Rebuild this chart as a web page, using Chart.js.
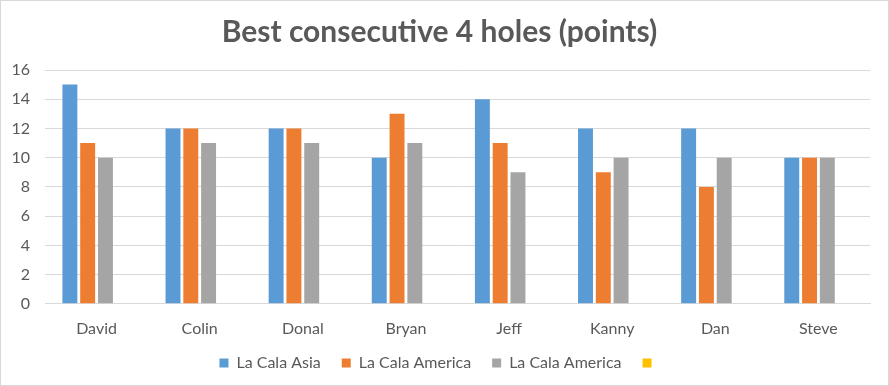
<!DOCTYPE html>
<html>
<head>
<meta charset="utf-8">
<script src="https://cdn.jsdelivr.net/npm/chart.js@4"></script>
<style>
  html, body { margin: 0; padding: 0; background: #fff; }
  #wrap { width: 887px; height: 384px; border: 1px solid #d9d9d9; }
</style>
</head>
<body>
<div id="wrap"><canvas id="chart" width="887" height="384"></canvas></div>
<script>
// Datos del gráfico
const players = ['David', 'Colin', 'Donal', 'Bryan', 'Jeff', 'Kanny', 'Dan', 'Steve'];
const laCalaAsia = [15, 12, 12, 10, 14, 12, 12, 10];
const laCalaAmerica = [11, 12, 12, 13, 11, 9, 8, 10];
const laCalaAmerica2 = [10, 11, 11, 11, 9, 10, 10, 10];
const emptySeries = [null, null, null, null, null, null, null, null];

const textColor = '#595959';
const fontFamily = 'Lato, "Open Sans", sans-serif';

const ctx = document.getElementById('chart').getContext('2d');
new Chart(ctx, {
    type: 'bar',
    data: {
        labels: players,
        datasets: [
            { label: 'La Cala Asia', data: laCalaAsia, backgroundColor: '#5B9BD5' },
            { label: 'La Cala America', data: laCalaAmerica, backgroundColor: '#ED7D31' },
            { label: 'La Cala America', data: laCalaAmerica2, backgroundColor: '#A5A5A5' },
            { label: '', data: emptySeries, backgroundColor: '#FFC000' }
        ]
    },
    options: {
        responsive: false,
        animation: false,
        categoryPercentage: 0.69,
        barPercentage: 0.84,
        layout: { padding: { left: 8, right: 18, top: 0, bottom: 4 } },
        plugins: {
            title: {
                display: true,
                text: 'Best consecutive 4 holes (points)',
                color: textColor,
                font: { family: fontFamily, size: 30, weight: 'bold', lineHeight: 1.2 },
                padding: { top: 13, bottom: 20 }
            },
            legend: {
                position: 'bottom',
                labels: {
                    color: textColor,
                    font: { family: fontFamily, size: 16 },
                    boxWidth: 9,
                    boxHeight: 9,
                    padding: 17,
                    // un poco más de aire entre las entradas
                    generateLabels: function(chart) {
                        const items = Chart.defaults.plugins.legend.labels.generateLabels(chart);
                        items.forEach(item => {
                            if (item.text) item.text += '\u2009\u2009';
                        });
                        return items;
                    }
                }
            },
            tooltip: { enabled: false }
        },
        scales: {
            x: {
                grid: { display: false, tickLength: 15 },
                border: { color: '#d9d9d9' },
                ticks: { color: textColor, font: { family: fontFamily, size: 16, lineHeight: 1.2 }, padding: 0 }
            },
            y: {
                min: 0,
                max: 16,
                ticks: { stepSize: 2, color: textColor, font: { family: fontFamily, size: 16 }, padding: 15 },
                grid: { color: '#d9d9d9', drawTicks: false },
                border: { display: false },
                afterFit: function(scale) { scale.width = 36; }
            }
        }
    }
});
</script>
</body>
</html>
